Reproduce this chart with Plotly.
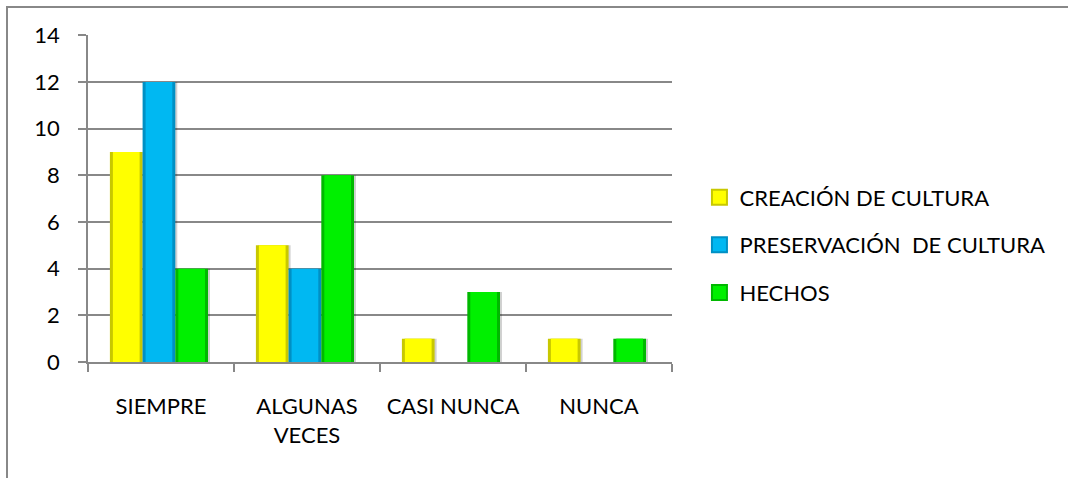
import plotly.graph_objects as go

categories = ["SIEMPRE", "ALGUNAS<br>VECES", "CASI NUNCA", "NUNCA"]
series_names = ["CREACIÓN DE CULTURA", "PRESERVACIÓN  DE CULTURA", "HECHOS"]
creacion = [9, 5, 1, 1]
preservacion = [12, 4, 0, 0]
hechos = [4, 8, 3, 1]
y_ticks = [0, 2, 4, 6, 8, 10, 12, 14]

colors = ["#FFFF00", "#00B8F2", "#00F000"]
edges = ["#C8C800", "#0090C4", "#00B800"]

W, H = 1068, 478
L, R, T, B = 88, 396, 35, 116
pw = W - L - R
ph = H - T - B

bar_w = 0.224
group_start = -0.35
edge = 3.0 / 146
shadow = 2.0 / 146

fig = go.Figure()
all_vals = [creacion, preservacion, hechos]
# shadow layers
for i, (name, vals) in enumerate(zip(series_names, all_vals)):
    fig.add_trace(go.Bar(
        x=categories, y=vals, width=bar_w, offset=group_start + i * bar_w + shadow,
        marker=dict(color="rgba(0,0,0,0.18)", line=dict(width=0)),
        showlegend=False, hoverinfo="skip", legendgroup=name,
    ))
# edge layers
for i, (name, vals, e) in enumerate(zip(series_names, all_vals, edges)):
    fig.add_trace(go.Bar(
        x=categories, y=vals, width=bar_w, offset=group_start + i * bar_w,
        marker=dict(color=e, line=dict(width=0)),
        showlegend=False, hoverinfo="skip", legendgroup=name,
    ))
# main layers
for i, (name, vals, c, e) in enumerate(zip(series_names, all_vals, colors, edges)):
    fig.add_trace(go.Bar(
        x=categories, y=vals, name=name, legendgroup=name, showlegend=False,
        width=bar_w - 2 * edge, offset=group_start + i * bar_w + edge,
        marker=dict(color=c, line=dict(width=0)),
    ))
# legend entries
for name, c, e in zip(series_names, colors, edges):
    fig.add_trace(go.Scatter(
        x=[None], y=[None], mode="markers", name=name, legendgroup=name,
        marker=dict(symbol="square", size=15, color=c, line=dict(color=e, width=2)),
    ))

font = "Lato, 'Open Sans', sans-serif"
fig.update_layout(
    width=W, height=H,
    margin=dict(l=L, r=R, t=T, b=B, autoexpand=False),
    paper_bgcolor="white", plot_bgcolor="white",
    barmode="overlay",
    font=dict(family=font, size=22, color="#000000"),
    showlegend=True,
    legend=dict(x=1.047, y=0.358, xanchor="left", yanchor="middle",
                font=dict(size=22), tracegroupgap=16, itemwidth=30,
                traceorder="grouped"),
    xaxis=dict(
        type="category", tickson="boundaries", ticks="outside", ticklen=8,
        tickcolor="#888888", tickwidth=1.5, showline=True, linecolor="#888888",
        linewidth=1.5, showgrid=False, ticklabelstandoff=24, automargin=False,
    ),
    yaxis=dict(
        range=[0, 14.01], tickvals=y_ticks, ticks="outside", ticklen=8,
        tickcolor="#888888", tickwidth=1.5, showline=True, linecolor="#888888",
        linewidth=1.5, showgrid=True, gridcolor="#888888", gridwidth=1.5,
        zeroline=False, ticklabelstandoff=14, automargin=False,
    ),
)

fig.add_shape(type="path", xref="paper", yref="paper",
              path=f"M {(7-L)/pw} {-1} L {(7-L)/pw} {(H-B-7)/ph} L 2 {(H-B-7)/ph}",
              line=dict(color="#888888", width=2))

fig.write_html("out.html", config={"displayModeBar": False},
               post_script="document.body.style.margin='0';")
